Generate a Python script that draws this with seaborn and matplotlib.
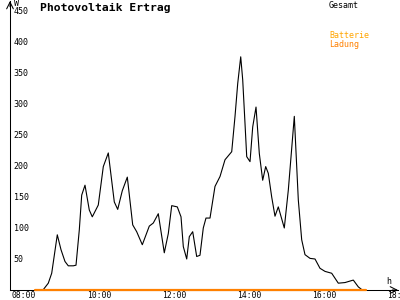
import matplotlib
matplotlib.use('Agg')
import matplotlib.pyplot as plt
import seaborn as sns
from matplotlib.transforms import ScaledTranslation

# Gesamt (W) over time of day (decimal hours)
times = [8.747, 8.888, 8.979, 9.128, 9.227, 9.333, 9.421, 9.555, 9.627, 9.715,
         9.779, 9.867, 9.981, 10.061, 10.221, 10.355, 10.488, 10.648, 10.739, 10.861,
         10.995, 11.139, 11.245, 11.395, 11.581, 11.688, 11.821, 11.981, 12.088, 12.179,
         12.328, 12.427, 12.488, 12.579, 12.648, 12.739, 12.845, 12.933, 13.021, 13.093,
         13.2, 13.333, 13.467, 13.6, 13.779, 13.867, 13.939, 14.019, 14.072, 14.133,
         14.179, 14.267, 14.339, 14.427, 14.515, 14.605, 14.685, 14.755, 14.845, 14.933,
         15.021, 15.181, 15.288, 15.448, 15.555, 15.645, 15.733, 15.867, 16.0, 16.133,
         16.267, 16.445, 16.621, 16.8, 17.021, 17.155, 17.261]
gesamt = [0, 11, 27, 89, 65, 46, 39, 39, 40, 97,
          153, 169, 129, 118, 137, 199, 221, 142, 130, 160,
          182, 105, 94, 73, 103, 108, 123, 60, 91, 136,
          134, 118, 70, 50, 86, 94, 54, 56, 100, 116,
          116, 167, 183, 210, 223, 280, 333, 376, 339, 269,
          215, 207, 263, 295, 220, 177, 199, 188, 150, 119,
          134, 100, 161, 280, 145, 81, 57, 51, 50, 35,
          30, 27, 11, 12, 16, 5, 0]

# Batterie Ladung (W)
batt_times = [8.53, 17.36]
batt_values = [0, 0]

x_ticks = [8, 10, 12, 14, 16, 18]
x_labels = ['08:00', '10:00', '12:00', '14:00', '16:00', '18:00']
y_ticks = [50, 100, 150, 200, 250, 300, 350, 400, 450]
y_labels = [str(v) for v in y_ticks]

sns.set_theme(style='white')
plt.rcParams['font.family'] = ['DejaVu Sans Mono']

fig = plt.figure(figsize=(4, 3), dpi=100)
fig.patch.set_facecolor('white')
ax = fig.add_axes([10 / 400, 10 / 300, 388 / 400, 289 / 300])
ax.set_facecolor('white')

sns.lineplot(x=times, y=gesamt, color='black', linewidth=0.8, ax=ax, zorder=3)
sns.lineplot(x=batt_times, y=batt_values, color='#ff8000', linewidth=1.6, ax=ax, zorder=4)
for ln in ax.lines:
    ln.set_clip_on(False)

ax.set_xlim(7.867, 18.213)
ax.set_ylim(0, 466)

for s in ['top', 'right']:
    ax.spines[s].set_visible(False)
for s in ['left', 'bottom']:
    ax.spines[s].set_color('black')
    ax.spines[s].set_linewidth(0.75)

ax.set_xticks(x_ticks)
ax.set_xticklabels(x_labels)
ax.set_yticks(y_ticks)
ax.set_yticklabels(y_labels)
ax.tick_params(axis='both', direction='inout', length=3.5, width=0.75,
               color='black', labelsize=6, labelcolor='black')
ax.tick_params(axis='x', pad=-0.8, labelsize=5.8)
ax.tick_params(axis='y', pad=-4.3)
ax.set_xlabel('')
ax.set_ylabel('')
ax.grid(False)

for lbl in ax.get_yticklabels():
    lbl.set_ha('left')
for lbl in ax.get_xticklabels():
    lbl.set_ha('left')
    lbl.set_transform(lbl.get_transform() + ScaledTranslation(-3 / 100, 0, fig.dpi_scale_trans))

# axis arrows
ax.annotate('', xy=(1.0, 0), xytext=(0.985, 0), xycoords='axes fraction',
            arrowprops=dict(arrowstyle='->', lw=0.75, color='black', shrinkA=0, shrinkB=0))
ax.annotate('', xy=(0, 1.0), xytext=(0, 0.98), xycoords='axes fraction',
            arrowprops=dict(arrowstyle='->', lw=0.75, color='black', shrinkA=0, shrinkB=0))

def P(x, y):
    return x / 400, 1 - y / 300

fig.text(*P(40, 8), 'Photovoltaik Ertrag', fontsize=8.2, fontweight='bold',
         ha='left', va='center', color='black')
fig.text(*P(329, 5), 'Gesamt', fontsize=6, ha='left', va='center', color='black')
fig.text(*P(329, 36), 'Batterie', fontsize=6, ha='left', va='center', color='#ffa500')
fig.text(*P(329, 44), 'Ladung', fontsize=6, ha='left', va='center', color='#ff8000')
fig.text(*P(386, 282), 'h', fontsize=6, ha='left', va='center', color='black')
fig.text(*P(14, 4), 'W', fontsize=6, ha='left', va='center', color='black')

fig.savefig('out.png', dpi=100)
